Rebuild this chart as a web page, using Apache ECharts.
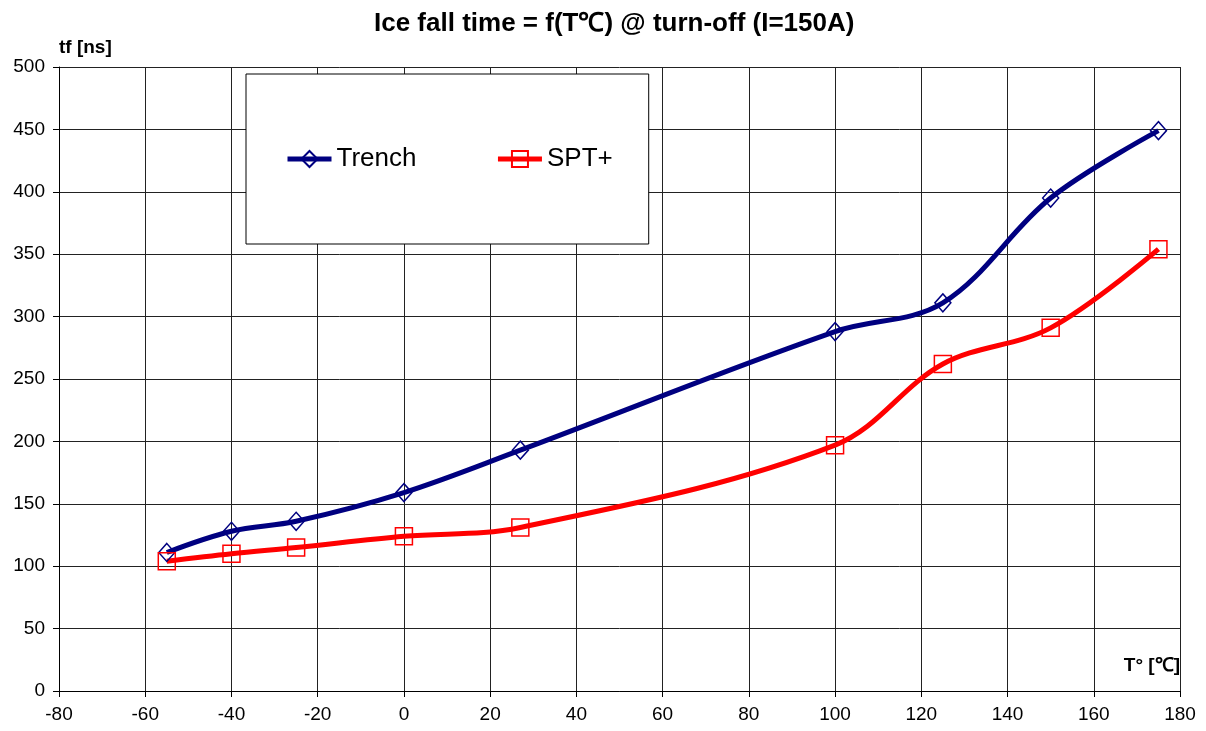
<!DOCTYPE html>
<html>
<head>
<meta charset="utf-8">
<script src="https://cdn.jsdelivr.net/npm/echarts@6/dist/echarts.min.js"></script>
<style>
  html, body { margin: 0; padding: 0; background: #fff; }
  #main { width: 1206px; height: 731px; }
</style>
</head>
<body>
<div id="main"></div>
<script>
    // temperatures (°C) and fall times (ns)
    var temps = [-55, -40, -25, 0, 27, 100, 125, 150, 175];
    var trench = [111, 128, 136, 159, 193, 288, 311, 395, 449];
    var sptPlus = [104, 110, 115, 124, 131, 197, 262, 291, 354];

    function pairs(ys) {
        return temps.map(function (t, i) { return [t, ys[i]]; });
    }

    var font = 'Liberation Sans, Arial, sans-serif';
    var myChart = echarts.init(document.getElementById('main'));
    option = {
        animation: false,
        textStyle: { fontFamily: font },
        title: {
            text: 'Ice fall time = f(T\u2103) @ turn-off (I=150A)',
            left: 369,
            top: 6,
            textStyle: { fontSize: 26, fontWeight: 'bold', color: '#000', fontFamily: font }
        },
        legend: {
            left: 246,
            top: 74,
            orient: 'horizontal',
            backgroundColor: '#fff',
            borderColor: '#000',
            borderWidth: 1,
            borderRadius: 0,
            padding: [72, 36, 72, 39],
            itemWidth: 44,
            itemHeight: 20,
            itemGap: 79,
            lineStyle: { width: 5 },
            textStyle: { fontSize: 26, color: '#000', fontFamily: font, lineHeight: 26 },
            data: ['Trench', 'SPT+']
        },
        grid: { left: 59, right: 26, top: 67, bottom: 40 },
        xAxis: {
            type: 'value',
            min: -80,
            max: 180,
            interval: 20,
            name: 'T\u00b0 [\u2103]',
            nameLocation: 'end',
            nameGap: 0,
            nameTextStyle: {
                fontSize: 19, fontWeight: 'bold', color: '#000',
                align: 'right', verticalAlign: 'bottom', padding: [0, 0, 16, 0]
            },
            axisLine: { onZero: false, lineStyle: { color: '#000', width: 1 } },
            axisTick: { show: true, length: 6, lineStyle: { color: '#000' } },
            axisLabel: { fontSize: 19, color: '#000', margin: 14 },
            splitLine: { show: true, lineStyle: { color: '#222', width: 1 } }
        },
        yAxis: {
            type: 'value',
            min: 0,
            max: 500,
            interval: 50,
            name: 'tf [ns]',
            nameLocation: 'end',
            nameGap: 10,
            nameTextStyle: { fontSize: 19, fontWeight: 'bold', color: '#000', align: 'left' },
            axisLine: { show: true, onZero: false, lineStyle: { color: '#000', width: 1 } },
            axisTick: { show: true, length: 6, lineStyle: { color: '#000' } },
            axisLabel: { fontSize: 19, color: '#000', margin: 14 },
            splitLine: { show: true, lineStyle: { color: '#222', width: 1 } }
        },
        series: [
            {
                name: 'Trench',
                type: 'line',
                smooth: 0.35,
                data: pairs(trench),
                color: '#000080',
                symbol: 'diamond',
                symbolSize: [16, 18],
                lineStyle: { color: '#000080', width: 5 },
                itemStyle: { color: 'rgba(255,255,255,0)', borderColor: '#000080', borderWidth: 1.5 }
            },
            {
                name: 'SPT+',
                type: 'line',
                smooth: 0.35,
                data: pairs(sptPlus),
                color: '#ff0000',
                symbol: 'rect',
                symbolSize: 17,
                lineStyle: { color: '#ff0000', width: 5 },
                itemStyle: { color: 'rgba(255,255,255,0)', borderColor: '#ff0000', borderWidth: 1.5 }
            }
        ]
    };
    myChart.setOption(option);
</script>
</body>
</html>
